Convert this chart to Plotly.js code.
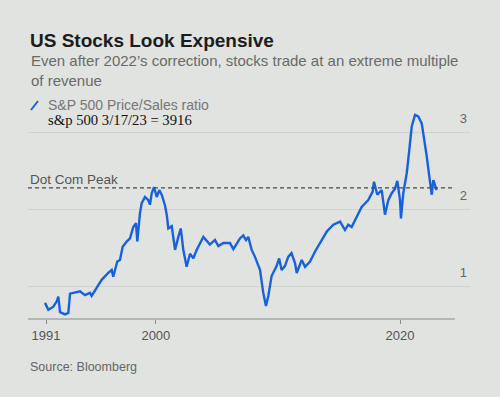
<!DOCTYPE html>
<html>
<head>
<meta charset="utf-8">
<script src="https://cdn.plot.ly/plotly-3.0.1.min.js"></script>
<style>
html,body{margin:0;padding:0;background:#e0e3e0;}
#chart{width:500px;height:397px;}
</style>
</head>
<body>
<div id="chart"></div>
<script>
// S&P 500 Price/Sales ratio (decimal years, ratio)
const years = [1990.92,1991.19,1991.60,1991.88,1992.01,1992.15,1992.56,1992.83,1992.97,1993.79,
  1994.19,1994.60,1994.74,1995.15,1995.56,1996.10,1996.38,1996.51,1996.84,1997.06,
  1997.28,1997.61,1997.88,1998.15,1998.37,1998.48,1998.70,1998.84,1999.11,1999.38,
  1999.52,1999.66,1999.85,2000.07,2000.28,2000.48,2000.75,2000.90,2001.02,2001.30,
  2001.57,2001.84,2002.04,2002.25,2002.52,2002.80,2003.07,2003.34,2003.89,2004.43,
  2004.84,2005.12,2005.53,2006.07,2006.35,2006.89,2007.16,2007.38,2007.57,2007.85,
  2008.12,2008.53,2008.80,2009.02,2009.21,2009.48,2009.89,2010.10,2010.30,2010.57,
  2010.84,2011.11,2011.40,2011.54,2011.95,2012.22,2012.63,2013.04,2013.45,2014.00,
  2014.54,2015.09,2015.49,2015.76,2016.04,2016.45,2016.86,2017.40,2017.76,2017.87,
  2018.14,2018.50,2018.77,2019.04,2019.32,2019.59,2019.78,2020.00,2020.08,2020.27,
  2020.55,2020.76,2020.96,2021.23,2021.50,2021.78,2021.91,2022.19,2022.40,2022.60,
  2022.73,2023.00];
const ratio = [0.78,0.69,0.73,0.80,0.86,0.66,0.63,0.65,0.90,0.93,
  0.88,0.91,0.87,0.97,1.08,1.17,1.21,1.12,1.32,1.34,
  1.51,1.58,1.62,1.77,1.82,1.58,1.95,2.08,2.16,2.12,
  2.06,2.21,2.29,2.16,2.25,2.19,2.05,1.92,1.75,1.78,
  1.47,1.64,1.75,1.47,1.25,1.42,1.36,1.47,1.64,1.54,
  1.60,1.52,1.56,1.56,1.48,1.62,1.66,1.60,1.64,1.47,
  1.38,1.21,0.91,0.74,0.87,1.13,1.26,1.36,1.21,1.26,
  1.38,1.43,1.30,1.17,1.34,1.25,1.32,1.45,1.56,1.71,
  1.80,1.84,1.73,1.80,1.77,1.90,2.03,2.12,2.23,2.36,
  2.19,2.25,1.93,2.12,2.21,2.27,2.37,2.12,1.88,2.21,
  2.47,2.77,3.08,3.23,3.21,3.12,2.99,2.69,2.43,2.19,
  2.38,2.25];
const dotComPeak = 2.28;
const xTickVals = [1991, 2000, 2020];
const xTickText = ['1991', '2000', '2020'];
const yTickVals = [1, 2, 3];
const yTickText = ['1', '2', '3'];

const W = 500, H = 397, L = 28, R = 30, T = 110, B = 78;
const pw = W - L - R, ph = H - T - B;
const px = x => (x - L) / pw;
const py = y => (H - B - y) / ph;

const font = "'Liberation Sans', Arial, sans-serif";

const trace = {
  x: years, y: ratio, type: 'scatter', mode: 'lines',
  line: {color: '#1762dc', width: 2.4},
  hoverinfo: 'skip', showlegend: false
};

const layout = {
  width: W, height: H,
  margin: {l: L, r: R, t: T, b: B},
  paper_bgcolor: '#e0e3e0', plot_bgcolor: '#e0e3e0',
  title: {
    text: '<b>US Stocks Look Expensive</b>',
    font: {family: font, size: 19, color: '#1c1c1c'},
    x: 30 / W, xanchor: 'left', xref: 'container',
    y: 1 - 40 / H, yanchor: 'middle', yref: 'container'
  },
  xaxis: {
    range: [1991 - 18 / 12.207, 1991 + 424 / 12.207],
    tickvals: xTickVals, ticktext: xTickText,
    ticks: 'outside', ticklen: 4, tickcolor: '#8a8c8a', tickwidth: 1,
    showgrid: false, zeroline: false, showline: false,
    tickfont: {family: font, size: 13, color: '#555'}
  },
  yaxis: {
    range: [2 - (319 - 209.3) / 76.7, 2 + (209.3 - 110) / 76.7],
    tickvals: yTickVals, ticktext: yTickText,
    side: 'right', ticklabelposition: 'inside', ticklabelshift: -14,
    showgrid: true, gridcolor: '#cfd2cf', gridwidth: 1,
    zeroline: false, showline: false, ticks: '',
    tickfont: {family: font, size: 13, color: '#666'}
  },
  shapes: [
    {type: 'line', xref: 'paper', yref: 'y', x0: 0, x1: px(452), y0: dotComPeak, y1: dotComPeak,
     line: {color: '#4a4a4a', width: 1.2, dash: '4px,3px'}},
    {type: 'line', xref: 'paper', yref: 'paper', x0: 0, x1: px(455), y0: 0, y1: 0,
     line: {color: '#8a8c8a', width: 1}},
    {type: 'line', xref: 'paper', yref: 'paper', x0: px(31), x1: px(38), y0: py(110), y1: py(101),
     line: {color: '#1762dc', width: 2}}
  ],
  annotations: [
    {text: 'Even after 2022\u2019s correction, stocks trade at an extreme multiple<br>of revenue',
     xref: 'paper', yref: 'paper', x: px(29), y: py(50), xanchor: 'left', yanchor: 'top',
     align: 'left', showarrow: false,
     font: {family: font, size: 15, color: '#6a6a6a'}},
    {text: 'S&P 500 Price/Sales ratio', xref: 'paper', yref: 'paper', x: px(46), y: py(105),
     xanchor: 'left', yanchor: 'middle', showarrow: false,
     font: {family: font, size: 14, color: '#777'}},
    {text: 's&p 500 3/17/23 = 3916', xref: 'paper', yref: 'paper', x: px(46), y: py(120),
     xanchor: 'left', yanchor: 'middle', showarrow: false,
     font: {family: "'Liberation Serif', 'Times New Roman', serif", size: 14.7, color: '#111'}},
    {text: 'Dot Com Peak', xref: 'paper', yref: 'paper', x: px(28), y: py(179),
     xanchor: 'left', yanchor: 'middle', showarrow: false,
     font: {family: font, size: 13.5, color: '#555'}},
    {text: 'Source: Bloomberg', xref: 'paper', yref: 'paper', x: px(28), y: py(367),
     xanchor: 'left', yanchor: 'middle', showarrow: false,
     font: {family: font, size: 12.5, color: '#666'}}
  ]
};

Plotly.newPlot('chart', [trace], layout, {displayModeBar: false, staticPlot: true});
</script>
</body>
</html>
